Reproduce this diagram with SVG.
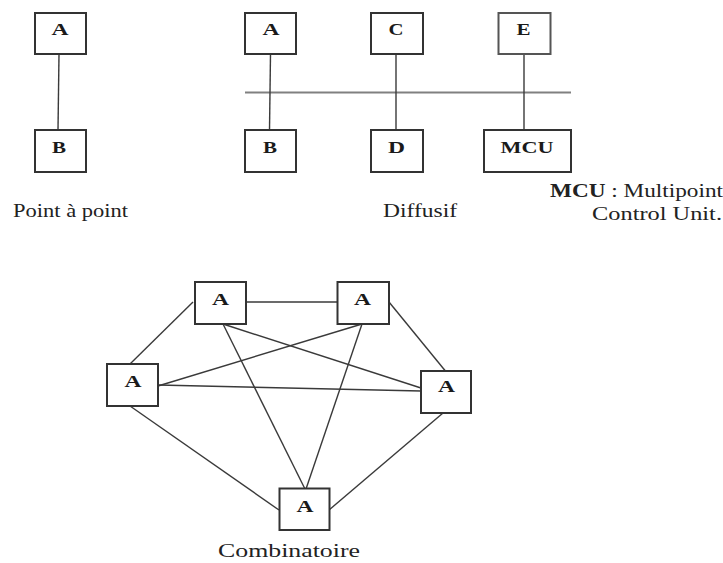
<svg xmlns="http://www.w3.org/2000/svg" width="723" height="563" viewBox="0 0 723 563">
<style>
.box{fill:#fff;stroke:#333;stroke-width:2}
.lbl{font-family:"Liberation Serif","Times New Roman",serif;font-weight:bold;font-size:16px;fill:#1a1a1a;text-anchor:middle}
.cap{font-family:"Liberation Serif","Times New Roman",serif;font-size:18px;fill:#222}
.ln{stroke:#3a3a3a;stroke-width:1.4;fill:none}
.bus{stroke:#808080;stroke-width:2;fill:none}
</style>
<rect width="723" height="563" fill="#fff"/>
<g id="connectors">
<line class="ln" x1="59" y1="54" x2="58" y2="130"/>
<line class="bus" x1="245" y1="92.5" x2="571" y2="92.5"/>
<line class="ln" x1="270.5" y1="54" x2="269.5" y2="130"/>
<line class="ln" x1="396" y1="54" x2="396" y2="130"/>
<line class="ln" x1="524" y1="54" x2="524" y2="130" stroke="#666"/>
<line class="ln" x1="246" y1="302" x2="337" y2="302"/>
<line class="ln" x1="193" y1="302" x2="130" y2="364"/>
<line class="ln" x1="389" y1="302" x2="445" y2="370.5"/>
<line class="ln" x1="158" y1="385" x2="421" y2="391"/>
<line class="ln" x1="223" y1="324" x2="421" y2="388"/>
<line class="ln" x1="223" y1="324" x2="305" y2="489"/>
<line class="ln" x1="362" y1="324" x2="158" y2="386"/>
<line class="ln" x1="362" y1="324" x2="306" y2="489"/>
<line class="ln" x1="130" y1="406" x2="279" y2="510"/>
<line class="ln" x1="443" y1="413" x2="329" y2="510"/>
</g>
<g id="p2p-A"><rect class="box" x="35" y="13" width="51" height="41"/><text class="lbl" x="60" y="35" textLength="17" lengthAdjust="spacingAndGlyphs">A</text></g>
<g id="p2p-B"><rect class="box" x="35" y="130" width="51" height="42"/><text class="lbl" x="59" y="153" textLength="14" lengthAdjust="spacingAndGlyphs">B</text></g>
<g id="dif-A"><rect class="box" x="245" y="13" width="51" height="41"/><text class="lbl" x="271" y="35" textLength="17" lengthAdjust="spacingAndGlyphs">A</text></g>
<g id="dif-B"><rect class="box" x="245" y="130" width="51" height="42"/><text class="lbl" x="270" y="153" textLength="14" lengthAdjust="spacingAndGlyphs">B</text></g>
<g id="dif-C"><rect class="box" x="371" y="13" width="52" height="41"/><text class="lbl" x="396" y="35" textLength="15" lengthAdjust="spacingAndGlyphs">C</text></g>
<g id="dif-D"><rect class="box" x="371" y="130" width="52" height="42"/><text class="lbl" x="396.5" y="153" textLength="17" lengthAdjust="spacingAndGlyphs">D</text></g>
<g id="dif-E"><rect class="box" x="498.5" y="13" width="52" height="41" style="stroke:#555"/><text class="lbl" x="523.5" y="35" textLength="14" lengthAdjust="spacingAndGlyphs">E</text></g>
<g id="dif-MCU"><rect class="box" x="484" y="130" width="87" height="42"/><text class="lbl" x="527" y="153" textLength="53" lengthAdjust="spacingAndGlyphs">MCU</text></g>
<g id="cmb-TL"><rect class="box" x="195" y="282" width="51" height="42"/><text class="lbl" x="220.5" y="305" textLength="17" lengthAdjust="spacingAndGlyphs">A</text></g>
<g id="cmb-TR"><rect class="box" x="337.5" y="282" width="51.5" height="42"/><text class="lbl" x="362.5" y="305" textLength="17" lengthAdjust="spacingAndGlyphs">A</text></g>
<g id="cmb-L"><rect class="box" x="107" y="364" width="51" height="42"/><text class="lbl" x="133" y="387" textLength="17" lengthAdjust="spacingAndGlyphs">A</text></g>
<g id="cmb-R"><rect class="box" x="421" y="371" width="50" height="42"/><text class="lbl" x="446.5" y="392" textLength="17" lengthAdjust="spacingAndGlyphs">A</text></g>
<g id="cmb-B"><rect class="box" x="279.5" y="488.5" width="50" height="41.5"/><text class="lbl" x="305" y="512" textLength="17" lengthAdjust="spacingAndGlyphs">A</text></g>
<g id="captions">
<text class="cap" x="13" y="217" textLength="115" lengthAdjust="spacingAndGlyphs">Point à point</text>
<text class="cap" x="383" y="217" textLength="74" lengthAdjust="spacingAndGlyphs">Diffusif</text>
<text class="cap" x="550" y="197" textLength="173" lengthAdjust="spacingAndGlyphs"><tspan font-weight="bold">MCU</tspan> : Multipoint</text>
<text class="cap" x="592" y="220" textLength="130" lengthAdjust="spacingAndGlyphs">Control  Unit.</text>
<text class="cap" x="218" y="557" textLength="142" lengthAdjust="spacingAndGlyphs">Combinatoire</text>
</g>
</svg>
